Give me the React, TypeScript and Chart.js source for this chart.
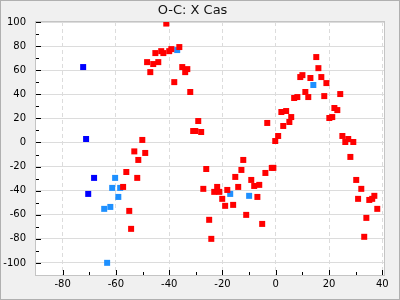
import React, { useEffect, useRef } from 'react';
import { Chart, registerables } from 'chart.js';

Chart.register(...registerables);

const TITLE = 'O-C: X Cas';
const X_TICKS = [-80, -60, -40, -20, 0, 20, 40];
const Y_TICKS = [-100, -80, -60, -40, -20, 0, 20, 40, 60, 80, 100];
const MINOR_STEP = 10;
const X_MIN = -90;
const X_MAX = 41;
const Y_MIN = -110;
const Y_MAX = 100;

const redX = [
  -53.1, -51.6, -56.1, -52.0, -57.3, -55.0, -54.3, -49.0, -50.1, -41.1,
  -36.2, -39.2, -40.0, -43.0, -42.2, -45.2, -48.3, -46.0, -44.1, -47.1,
  -35.1, -33.2, -34.0, -38.1, -32.1, -29.1, -31.0, -30.2, -28.0, -3.2,
  -12.2, -12.9, -26.1, -15.2, -9.2, -3.9, -1.5, -0.9, -14.1, -8.1,
  -6.2, -27.2, -22.0, -23.1, -21.2, -18.2, -20.1, -6.9, -19.0, -16.0,
  -11.1, -25.0, -5.1, -24.2, 15.2, 16.0, 10.0, 9.2, 13.0, 17.1,
  19.0, 11.1, 12.2, 8.1, 6.9, 18.2, 24.2, 22.0, 23.1, 2.1,
  3.9, 5.8, 5.1, 2.8, 20.1, 21.2, 0.9, -0.2, 25.0, 27.2,
  26.1, 29.1, 28.0, 30.2, 32.1, 30.9, 35.1, 36.2, 37.0, 38.1,
  34.0, 33.2,
];
const redY = [
  -7.4, -14.5, -24.5, -29.4, -36.9, -56.8, -71.7, -8.7, 2.1, 98.7,
  79.2, 77.5, 75.8, 75.8, 74.2, 74.2, 66.7, 65.1, 66.7, 58.4,
  62.6, 60.9, 58.4, 50.1, 41.9, 17.8, 9.5, 9.5, 8.7, 16.2,
  -14.5, -22.8, -22.0, -28.6, -31.1, -25.3, -21.1, -21.1, -36.9, -36.1,
  -35.2, -38.5, -36.9, -41.0, -41.0, -39.4, -46.8, -45.2, -52.6, -51.8,
  -60.1, -64.2, -67.6, -80.0, 70.9, 61.7, 55.9, 54.3, 53.5, 54.3,
  49.3, 41.9, 37.7, 37.7, 36.9, 38.5, 40.2, 28.6, 26.9, 25.3,
  26.1, 21.1, 17.0, 13.7, 20.3, 21.1, 5.4, 1.2, 5.4, 2.9,
  0.4, 0.4, -12.0, -31.1, -38.5, -46.8, -47.7, -46.8, -44.3, -55.1,
  -62.6, -78.3,
];

const lightBlueX = [-60.3, -61.4, -58.4, -59.1, -64.4, -62.1, -63.3, -37.0, -17.1, -10.0, 14.1];
const lightBlueY = [-29.4, -37.7, -37.7, -45.2, -55.1, -53.5, -99.9, 76.7, -42.7, -44.3, 47.7];

const darkBlueX = [-72.3, -71.2, -68.2, -70.4];
const darkBlueY = [62.6, 2.9, -29.4, -42.7];

const RED = '#ff0000';
const LIGHT_BLUE = '#1e90ff';
const DARK_BLUE = '#0000ff';

const zip = (xs: number[], ys: number[]) => xs.map((x, i) => ({ x, y: ys[i] }));

const framePlugin = {
  id: 'frame',
  beforeDraw(chart: any) {
    const { ctx, chartArea: a, width, height } = chart;
    ctx.save();
    ctx.fillStyle = '#f0f0f0';
    ctx.fillRect(0, 0, width, height);
    ctx.strokeStyle = '#b0b0b0';
    ctx.lineWidth = 1;
    ctx.strokeRect(0.5, 0.5, width - 1, height - 1);
    ctx.fillStyle = '#ffffff';
    ctx.fillRect(a.left, a.top, a.right - a.left, a.bottom - a.top);
    ctx.restore();
  },
  afterDraw(chart: any) {
    const { ctx, chartArea: a, scales } = chart;
    const xs = scales.x;
    const ys = scales.y;
    ctx.save();
    ctx.lineWidth = 1;
    ctx.strokeStyle = '#c4c4c4';
    ctx.strokeRect(a.left - 0.5, a.top - 0.5, a.right - a.left, a.bottom - a.top + 1);
    ctx.strokeStyle = '#000000';
    ctx.beginPath();
    for (let v = Math.ceil(Y_MIN / MINOR_STEP) * MINOR_STEP; v <= Y_MAX; v += MINOR_STEP) {
      if (v <= Y_MIN || v >= Y_MAX) {
        if (v !== Y_MAX) continue;
      }
      const major = Y_TICKS.includes(v);
      const len = major ? 5 : 3;
      const py = Math.round(ys.getPixelForValue(v)) + 0.5;
      ctx.moveTo(a.left, py);
      ctx.lineTo(a.left + len, py);
    }
    for (let v = Math.ceil(X_MIN / MINOR_STEP) * MINOR_STEP; v <= X_MAX; v += MINOR_STEP) {
      if (v <= X_MIN) continue;
      const major = X_TICKS.includes(v);
      const len = major ? 5 : 3;
      const px = Math.round(xs.getPixelForValue(v)) + 0.5;
      ctx.moveTo(px, a.bottom);
      ctx.lineTo(px, a.bottom - len);
    }
    ctx.stroke();
    ctx.restore();
  },
};

const FONT = { family: '"DejaVu Sans", sans-serif', size: 10 };

export default function App() {
  const ref = useRef<HTMLCanvasElement | null>(null);

  useEffect(() => {
    if (!ref.current) return;
    const pointOpts = (color: string) => ({
      backgroundColor: color,
      borderColor: color,
      borderWidth: 0,
      pointStyle: 'rect' as const,
      pointRadius: 4.24,
      pointHoverRadius: 4.24,
      showLine: false,
    });
    const chart = new Chart(ref.current, {
      type: 'scatter',
      data: {
        datasets: [
          { label: 'red', data: zip(redX, redY), ...pointOpts(RED) },
          { label: 'lightblue', data: zip(lightBlueX, lightBlueY), ...pointOpts(LIGHT_BLUE) },
          { label: 'darkblue', data: zip(darkBlueX, darkBlueY), ...pointOpts(DARK_BLUE) },
        ],
      },
      options: {
        responsive: false,
        animation: false,
        events: [],
        layout: { padding: { top: 0, right: 15, left: 0, bottom: 0 } },
        plugins: {
          legend: { display: false },
          tooltip: { enabled: false },
          title: {
            display: true,
            text: TITLE,
            color: '#111111',
            font: { family: '"DejaVu Sans", sans-serif', size: 13, weight: 'normal', lineHeight: 1.2 },
            padding: { top: 3, bottom: 3.4 },
          },
        },
        scales: {
          x: {
            type: 'linear',
            min: X_MIN,
            max: X_MAX,
            afterBuildTicks: (s: any) => {
              s.ticks = X_TICKS.map((value) => ({ value }));
            },
            afterFit: (s: any) => {
              s.height = 25;
            },
            grid: { color: '#dcdcdc', lineWidth: 1, drawTicks: false },
            border: { display: false, dash: [4, 3] },
            ticks: { color: '#000000', font: FONT, padding: 3, maxRotation: 0, autoSkip: false },
          },
          y: {
            type: 'linear',
            min: Y_MIN,
            max: Y_MAX,
            afterBuildTicks: (s: any) => {
              s.ticks = Y_TICKS.map((value) => ({ value }));
            },
            afterFit: (s: any) => {
              s.width = 36;
            },
            grid: { color: '#dcdcdc', lineWidth: 1, drawTicks: false },
            border: { display: false },
            ticks: { color: '#000000', font: FONT, padding: 10, autoSkip: false },
          },
        },
      },
      plugins: [framePlugin],
    } as any);
    return () => chart.destroy();
  }, []);

  return (
    <div style={{ position: 'fixed', left: 0, top: 0, width: 400, height: 300 }}>
      <canvas ref={ref} width={400} height={300} style={{ display: 'block' }} />
    </div>
  );
}
